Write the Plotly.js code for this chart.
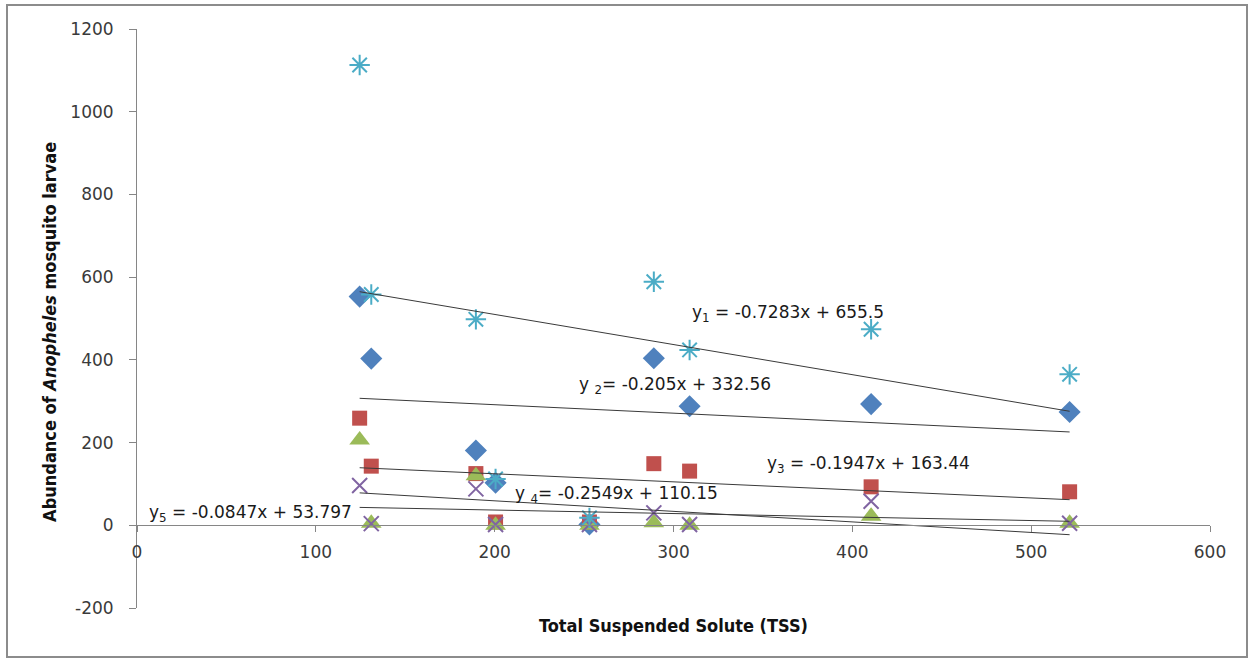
<!DOCTYPE html>
<html>
<head>
<meta charset="utf-8">
<script src="https://cdn.plot.ly/plotly-3.0.1.min.js"></script>
<style>
  html, body { margin: 0; padding: 0; background: #fff; }
  #wrap { position: relative; width: 1249px; height: 660px; }
  #chart { position: absolute; left: 0; top: 0; width: 1249px; height: 660px; }
  #frame { position: absolute; left: 6px; top: 4px; width: 1238px; height: 650px;
           border: 2px solid #8c8c8c; pointer-events: none; }
</style>
</head>
<body>
<div id="wrap">
  <div id="chart"></div>
  <div id="frame"></div>
</div>
<script>
// Total suspended solute at each sampling site
const tss = [124.5, 131, 189.5, 200.5, 253, 289, 309, 410.5, 521.5];

// Larval abundance per series at each site
const seriesDiamond  = [553, 403, 181, 103, 2, 404, 288, 293, 274];
const seriesSquare   = [259, 143, 125, 8, 8, 149, 131, 93, 81];
const seriesTriangle = [206, 5, 120, 0, 0, 6, 0, 22, 5];
const seriesCross    = [96, 4, 88, 2, 2, 30, 2, 58, 5];
const seriesStar     = [1113, 558, 498, 112, 18, 589, 424, 474, 365];

// Linear trendline coefficients (y = slope * x + intercept)
const trendSlope     = [-0.7283, -0.205, -0.1947, -0.2549, -0.0847];
const trendIntercept = [655.5, 332.56, 163.44, 110.15, 53.797];
const trendLabels = [
  'y<sub>1</sub> = -0.7283x + 655.5',
  'y <sub>2</sub>= -0.205x + 332.56',
  'y<sub>3</sub> = -0.1947x + 163.44',
  'y <sub>4</sub>= -0.2549x + 110.15',
  'y<sub>5</sub> = -0.0847x + 53.797'
];

// Axis ticks
const xTickVals = [0, 100, 200, 300, 400, 500, 600];
const yTickVals = [-200, 0, 200, 400, 600, 800, 1000, 1200];
const yTickText = ['-200', '0', '200', '400', '600', '800', '1000', '1200'];

const xTitle = 'Total Suspended Solute (TSS)';
const yTitle = 'Abundance of <i>Anopheles</i> mosquito larvae';

const axisGray = '#868686';
const tickFont = { family: 'DejaVu Sans, sans-serif', size: 17, color: '#3a3a3a' };
const eqFont = { family: 'DejaVu Sans, sans-serif', size: 17, color: '#1a1a1a' };
const titleFont = { family: 'Liberation Sans Narrow, DejaVu Sans Condensed, sans-serif', size: 18, color: '#111' };

function markerTrace(y, marker) {
  return { type: 'scatter', mode: 'markers', x: tss, y: y, marker: marker,
           hoverinfo: 'x+y', showlegend: false };
}

const traces = [
  markerTrace(seriesDiamond,  { symbol: 'diamond', size: 17, color: '#4F81BD', line: { width: 0 } }),
  markerTrace(seriesSquare,   { symbol: 'square', size: 15, color: '#C0504D', line: { width: 0 } }),
  markerTrace(seriesTriangle, { symbol: 'triangle-up', size: 18, color: '#9BBB59', line: { width: 0 } }),
  markerTrace(seriesCross,    { symbol: 'x-thin-open', size: 15, color: '#8064A2', line: { width: 2, color: '#8064A2' } }),
  markerTrace(seriesStar,     { symbol: 'asterisk-open', size: 17, color: '#4BACC6', line: { width: 2, color: '#4BACC6' } })
];

// Trendlines span the observed TSS range
const xMin = Math.min(...tss);
const xMax = Math.max(...tss);
trendSlope.forEach((m, i) => {
  const b = trendIntercept[i];
  traces.push({
    type: 'scatter', mode: 'lines',
    x: [xMin, xMax], y: [m * xMin + b, m * xMax + b],
    line: { color: '#3a3a3a', width: 1 },
    hoverinfo: 'skip', showlegend: false
  });
});

// Equation label placement (data coordinates, left-anchored)
const labelPos = [
  [309.5, 512], [246, 338], [351, 146], [210.5, 74], [5.8, 28]
];

const annotations = trendLabels.map((t, i) => ({
  x: labelPos[i][0], y: labelPos[i][1], xref: 'x', yref: 'y',
  text: t, showarrow: false, xanchor: 'left', yanchor: 'middle',
  font: eqFont
}));

annotations.push({
  x: 0.5, y: -0.031, xref: 'paper', yref: 'paper',
  text: '<b>' + xTitle + '</b>', showarrow: false,
  xanchor: 'center', yanchor: 'middle', font: titleFont
});
annotations.push({
  x: -0.081, y: 0.477, xref: 'paper', yref: 'paper',
  text: '<b>' + yTitle + '</b>', showarrow: false, textangle: -90,
  xanchor: 'center', yanchor: 'middle', font: titleFont
});

const layout = {
  width: 1249, height: 660,
  margin: { l: 137, r: 39, t: 29, b: 52, pad: 0 },
  paper_bgcolor: '#fff', plot_bgcolor: '#fff',
  showlegend: false,
  xaxis: {
    range: [0, 600], tickmode: 'array', tickvals: xTickVals,
    showgrid: false, zeroline: false,
    showline: true, linecolor: axisGray, linewidth: 1,
    ticks: 'outside', ticklen: 6, tickcolor: axisGray, tickwidth: 1,
    ticklabelstandoff: 5,
    anchor: 'free', position: 200 / 1400,
    tickfont: tickFont
  },
  yaxis: {
    range: [-200, 1200], tickmode: 'array', tickvals: yTickVals, ticktext: yTickText,
    showgrid: false, zeroline: false,
    showline: true, linecolor: axisGray, linewidth: 1,
    ticks: 'outside', ticklen: 7, tickcolor: axisGray, tickwidth: 1,
    ticklabelstandoff: 12,
    tickfont: tickFont
  },
  annotations: annotations
};

Plotly.newPlot('chart', traces, layout, { staticPlot: true, displayModeBar: false });
</script>
</body>
</html>
